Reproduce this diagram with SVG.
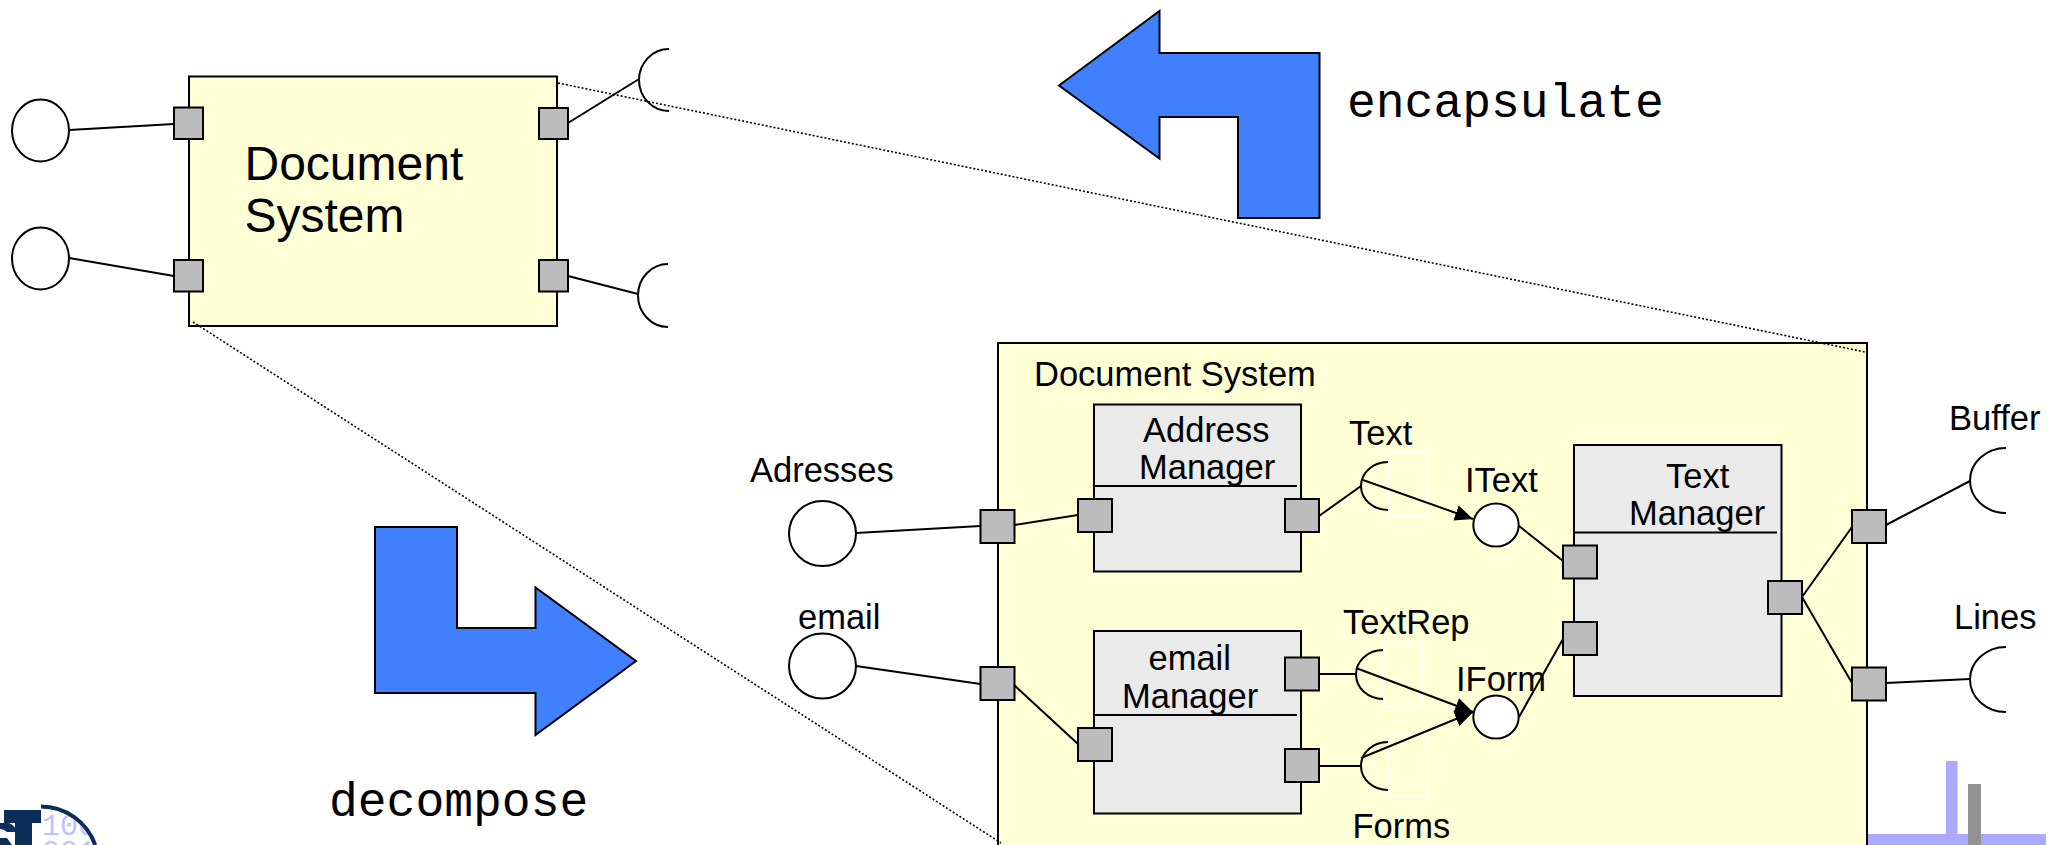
<svg xmlns="http://www.w3.org/2000/svg" width="2062" height="845" viewBox="0 0 2062 845">
<style>
text{font-family:"Liberation Sans",Arial,sans-serif;font-size:34.500px;fill:#000}
.mono{font-family:"Liberation Mono","Courier New",monospace;font-size:48px}
.big{font-size:48px}
.bits{font-family:"Liberation Mono",monospace;font-size:30px;fill:#c0c0ff}
.box{stroke:#000;stroke-width:2}
.sys{fill:#ffffd6}
.comp{fill:#eaeaea}
.port{fill:#bcbcbc;stroke:#000;stroke-width:2}
.ball{fill:#fff;stroke:#000;stroke-width:2}
.sock{fill:none;stroke:#000;stroke-width:2}
.ghost{fill:none;stroke:#fff;stroke-width:1.5}
.line{fill:none;stroke:#000;stroke-width:2}
.dot{fill:none;stroke:#000;stroke-width:1.6;stroke-dasharray:2 2}
.fat{fill:#4080ff;stroke:#000;stroke-width:2}
</style>
<defs>
<marker id="head" markerUnits="userSpaceOnUse" markerWidth="20" markerHeight="18" refX="18" refY="8" orient="auto"><path d="M0 0L18 8L0 16Z" fill="#000"/></marker>
<clipPath id="discClip"><circle cx="41" cy="864" r="55"/></clipPath>
</defs>
<g id="logo">
<path d="M41 806.500A57.500 57.500 0 0 1 95.200 845" fill="none" stroke="#0a2d5a" stroke-width="4"/>
<rect x="4" y="810" width="37" height="13" fill="#0a2d5a"/>
<rect x="15" y="810" width="17" height="35" fill="#0a2d5a"/>
<path d="M0 823H9Q16 826 16 832L7 832Q4 829 0 829ZM0 838H7L12 845H0Z" fill="#0a2d5a"/>
<g clip-path="url(#discClip)"><text class="bits" x="42" y="835">100</text><text class="bits" x="42" y="861">001</text></g>
</g>
<g id="corner-mark">
<rect x="1867" y="834" width="179" height="11" fill="#aaaaff"/>
<rect x="1946" y="761" width="11.500" height="84" fill="#aaaaff"/>
<rect x="1968" y="784" width="13" height="61" fill="#929292"/>
</g>
<g id="arrow-encapsulate"><polygon class="fat" points="1059,85.500 1159.500,11 1159.500,53 1319.500,53 1319.500,218 1238,218 1238,117 1159.500,117 1159.500,158.500"/><text class="mono" x="1347" y="117">encapsulate</text></g>
<g id="arrow-decompose"><polygon class="fat" points="375,527 457,527 457,628 535.500,628 535.500,587.500 636,661 535.500,735 535.500,693 375,693"/><text class="mono" x="329" y="816">decompose</text></g>
<g id="document-system-small">
<rect class="box sys" x="189" y="76.500" width="368" height="249.500"/>
<text class="big" x="244.500" y="180">Document</text><text class="big" x="244.500" y="232">System</text>
<rect class="port" x="174" y="107.500" width="29" height="31.500"/><rect class="port" x="174" y="260" width="29" height="31.500"/>
<rect class="port" x="539" y="108" width="29" height="31"/><rect class="port" x="539" y="260" width="29" height="31.500"/>
</g>
<g id="document-system">
<rect class="box sys" x="998" y="343" width="869" height="520"/>
<text x="1034" y="386">Document System</text>
</g>
<g id="address-manager">
<rect class="box comp" x="1094" y="404.500" width="207" height="167"/>
<path class="line" d="M1094 486H1297"/>
<text x="1143" y="442">Address</text><text x="1139" y="479">Manager</text>
<rect class="port" x="1078" y="499" width="34" height="33"/><rect class="port" x="1285" y="499" width="34" height="33"/>
</g>
<g id="email-manager">
<rect class="box comp" x="1094" y="631" width="207" height="182.500"/>
<path class="line" d="M1094 715H1297"/>
<text x="1148.500" y="670">email</text><text x="1122" y="708">Manager</text>
<rect class="port" x="1078" y="728" width="34" height="33"/><rect class="port" x="1285" y="657.500" width="34" height="33"/><rect class="port" x="1285" y="749" width="34" height="33"/>
</g>
<g id="text-manager">
<rect class="box comp" x="1574" y="445" width="207.500" height="251"/>
<path class="line" d="M1574 532.500H1777"/>
<text x="1666" y="488">Text</text><text x="1629" y="525">Manager</text>
<rect class="port" x="1563" y="545.500" width="34" height="33"/><rect class="port" x="1563" y="622" width="34" height="33"/><rect class="port" x="1768" y="581" width="34" height="33"/>
</g>
<g id="boundary-ports">
<rect class="port" x="980.500" y="510" width="34" height="33"/><rect class="port" x="980.500" y="667" width="34" height="33"/>
<rect class="port" x="1852" y="510" width="34" height="33"/><rect class="port" x="1852" y="667.500" width="34" height="33"/>
</g>
<g id="small-interfaces">
<ellipse class="ball" cx="40.500" cy="130.500" rx="28.500" ry="31"/><ellipse class="ball" cx="40.500" cy="258.500" rx="28.500" ry="31"/>
<path class="sock" d="M669 49A30 31 0 0 0 669 111"/><path class="sock" d="M668 264A30 31.500 0 0 0 668 327"/>
</g>
<g id="adresses"><ellipse class="ball" cx="822.500" cy="533.500" rx="33.500" ry="32.500"/><text x="750" y="482">Adresses</text></g>
<g id="email"><ellipse class="ball" cx="822.500" cy="666" rx="33.500" ry="32.500"/><text x="798" y="629">email</text></g>
<g id="itext"><ellipse class="ball" cx="1496" cy="525" rx="22.700" ry="21.500"/><text x="1465" y="492">IText</text></g>
<g id="iform"><ellipse class="ball" cx="1496" cy="717" rx="22.700" ry="21.500"/><text x="1456" y="691">IForm</text></g>
<g id="text-socket"><rect class="ghost" x="1388.500" y="453" width="38.500" height="64"/><path class="sock" d="M1388 462A27 24 0 0 0 1388 510"/><text x="1349" y="445">Text</text></g>
<g id="textrep-socket"><rect class="ghost" x="1384" y="642" width="38.500" height="64"/><path class="sock" d="M1383 650A27 24.500 0 0 0 1383 699"/><text x="1343" y="634">TextRep</text></g>
<g id="forms-socket"><rect class="ghost" x="1389" y="734" width="38.500" height="63"/><path class="sock" d="M1388 742A27 24 0 0 0 1388 790"/><text x="1352.500" y="838">Forms</text></g>
<g id="buffer"><path class="sock" d="M2006 448A36 32.500 0 0 0 2006 513"/><text x="1949" y="430">Buffer</text></g>
<g id="lines"><path class="sock" d="M2006 647A36 32.500 0 0 0 2006 712"/><text x="1954" y="629">Lines</text></g>
<g id="connectors">
<path class="line" d="M69 130L174 124M69 258L174 276M568 123L639 79M568 276L638 294"/>
<path class="line" d="M856 533L980.500 526M1014 525L1078 515M856 666L980.500 684M1014 685L1078 744"/>
<path class="line" d="M1319 516L1361 486M1519 526L1563 561M1519 717L1563 639M1319 674H1356M1319 766H1361"/>
<path class="line" d="M1802 597L1852 527M1802 597L1852 683M1886 525L1970 481M1886 683L1970 679"/>
<path class="line" marker-end="url(#head)" d="M1363 480L1473 519"/>
<path class="line" marker-end="url(#head)" d="M1356 668L1473 712"/>
<path class="line" marker-end="url(#head)" d="M1361 758L1473 712"/>
<path class="dot" d="M558 83L1865 352"/>
<path class="dot" d="M193 322L1001 843"/>
</g>
</svg>
